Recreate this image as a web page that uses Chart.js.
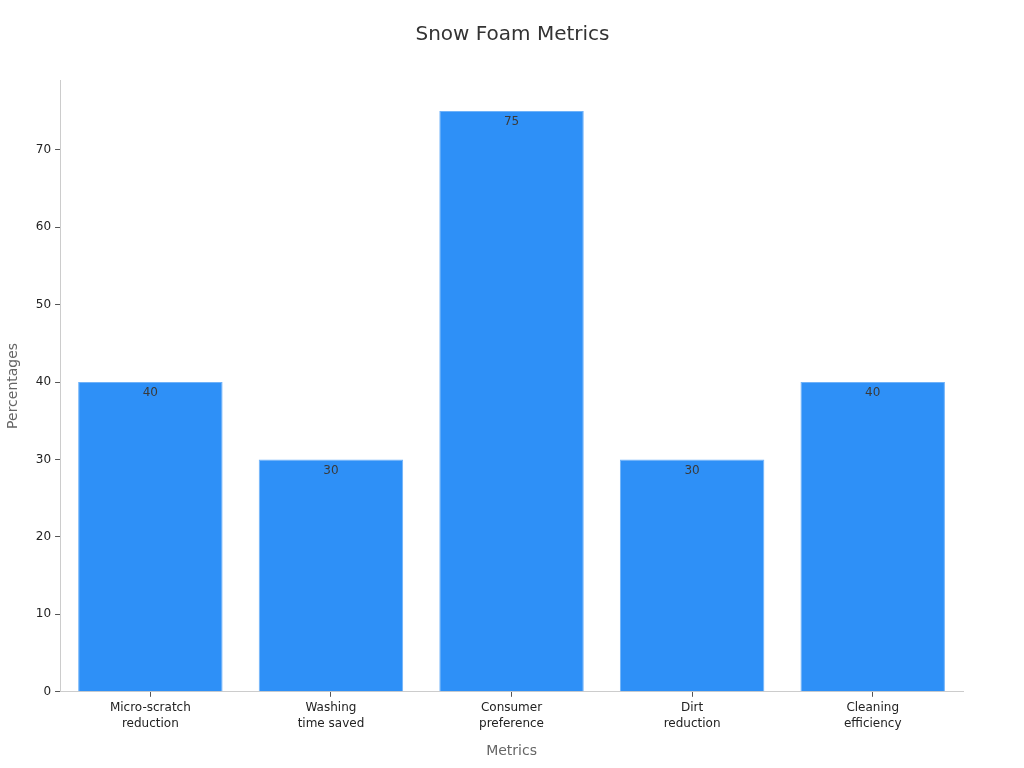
<!DOCTYPE html>
<html>
<head>
<meta charset="utf-8">
<script src="https://cdn.jsdelivr.net/npm/chart.js@4"></script>
<style>
  html, body { margin: 0; padding: 0; background: #fff; }
</style>
</head>
<body>
<canvas id="foamChart" width="1024" height="768"></canvas>
<script>
// chart data
const categories = [['Micro-scratch', 'reduction'], ['Washing', 'time saved'], ['Consumer', 'preference'], ['Dirt', 'reduction'], ['Cleaning', 'efficiency']];
const percentages = [40, 30, 75, 30, 40];
const yTicks = [0, 10, 20, 30, 40, 50, 60, 70];

Chart.defaults.font.family = 'DejaVu Sans';

// writes the value just under the top of each bar
const valueLabels = {
  id: 'valueLabels',
  afterDatasetsDraw(chart) {
    const c = chart.ctx;
    const meta = chart.getDatasetMeta(0);
    c.save();
    c.font = '12px DejaVu Sans';
    c.fillStyle = '#3a3a3a';
    c.textAlign = 'center';
    c.textBaseline = 'middle';
    meta.data.forEach((bar, i) => {
      c.fillText(String(percentages[i]), bar.x, bar.y + 11);
    });
    c.restore();
  }
};

const ctx = document.getElementById('foamChart').getContext('2d');
new Chart(ctx, {
  type: 'bar',
  data: {
    labels: categories,
    datasets: [{
      label: 'Percentages',
      data: percentages,
      backgroundColor: '#2E90F7',
      borderColor: '#6FB2F9',
      borderWidth: 1,
      barPercentage: 0.8,
      categoryPercentage: 1.0
    }]
  },
  options: {
    responsive: false,
    animation: false,
    devicePixelRatio: 1,
    layout: { padding: { left: 1, right: 0, top: 0, bottom: 4 } },
    plugins: {
      legend: { display: false },
      tooltip: { enabled: false },
      title: {
        display: true,
        text: 'Snow Foam Metrics',
        color: '#333',
        font: { size: 20, weight: 'normal' },
        padding: { top: 23, bottom: 33 }
      }
    },
    scales: {
      x: {
        grid: { display: true, offset: false, drawOnChartArea: false, color: '#555', tickLength: 5 },
        border: { color: '#ccc' },
        ticks: { color: '#222', font: { size: 12, lineHeight: 1.35 }, maxRotation: 0, padding: 3 },
        title: { display: true, text: 'Metrics', color: '#666', font: { size: 14 }, padding: { top: 8 } }
      },
      y: {
        min: 0,
        max: 79,
        afterBuildTicks: scale => { scale.ticks = yTicks.map(v => ({ value: v })); },
        grid: { display: true, drawOnChartArea: false, color: '#555', tickLength: 5 },
        border: { color: '#ccc' },
        ticks: { color: '#222', font: { size: 12 }, padding: 4 },
        title: { display: true, text: 'Percentages', color: '#666', font: { size: 14 }, padding: { bottom: 10 } }
      },
      // empty right-hand gutter so the title stays centred on the page
      yRight: {
        position: 'right',
        display: true,
        grid: { display: false },
        border: { display: false },
        ticks: { display: false },
        afterFit: scale => { scale.width = 61; }
      }
    }
  },
  plugins: [valueLabels]
});
</script>
</body>
</html>
